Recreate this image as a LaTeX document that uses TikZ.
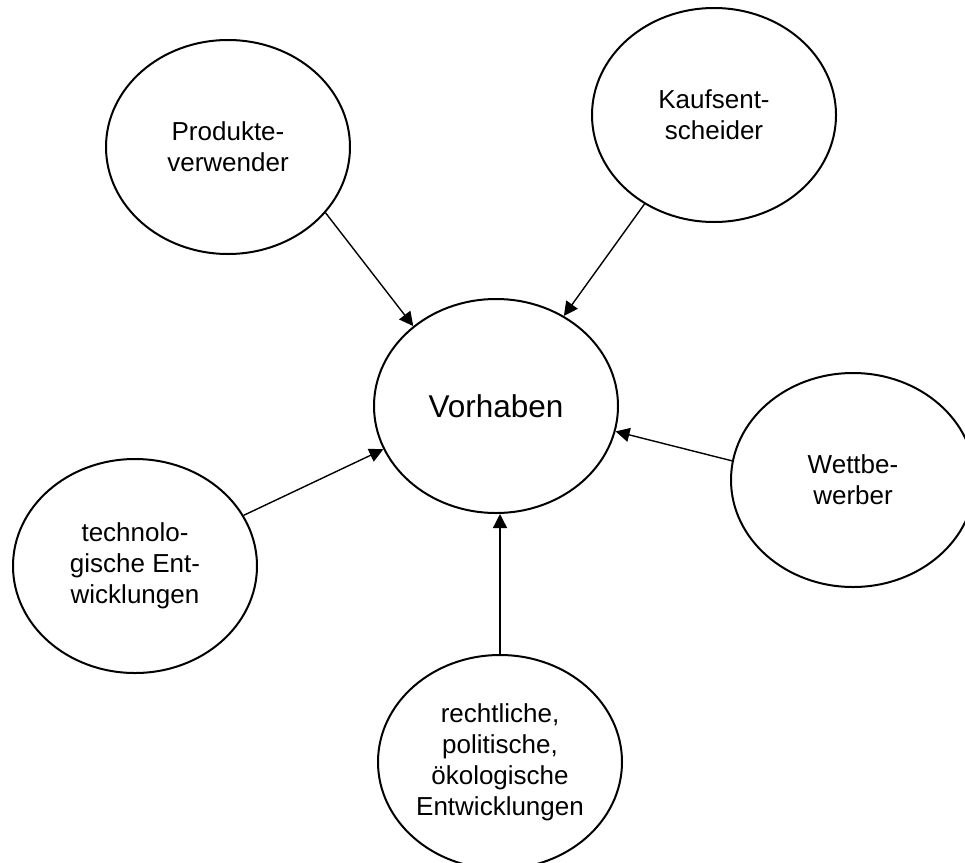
\documentclass[tikz,border=0pt]{standalone}
\usepackage{fontspec}
\setmainfont{Liberation Sans}
\usetikzlibrary{shapes.geometric,arrows.meta}

\begin{document}
\begin{tikzpicture}[x=1pt,y=-1pt,
        kreis/.style={draw,ellipse,line width=2pt,minimum width=244pt,minimum height=214pt,
            inner sep=0pt,align=center,font=\fontsize{26}{31}\selectfont},
        pfeil/.style={-{Triangle[length=14pt,width=14pt]},line width=1.4pt}]
            \useasboundingbox (0,0) rectangle (965,862);

            \node[kreis,font=\fontsize{31.5}{36}\selectfont] (vorhaben) at (496,406) {Vorhaben};

            \node[kreis] (produkte) at (228,147) {Produkte-\\verwender};
            \node[kreis] (kauf) at (714,115) {Kaufsent-\\scheider};
            \node[kreis] (wett) at (853,480) {Wettbe-\\werber};
            \node[kreis] (techno) at (135,566) {technolo-\\gische Ent-\\wicklungen};
            \node[kreis] (recht) at (500,762) {rechtliche,\\politische,\\ökologische\\Entwicklungen};

            \draw[pfeil] (produkte.-34) -- (vorhaben.136);
            \draw[pfeil] (kauf.232) -- (vorhaben.53);
            \draw[pfeil] (wett.171) -- (vorhaben.-12);
            \draw[pfeil] (techno.25) -- (vorhaben.201);
            \draw[pfeil] (recht.north) -- (recht.north |- vorhaben.south);
        \end{tikzpicture}
\end{document}
